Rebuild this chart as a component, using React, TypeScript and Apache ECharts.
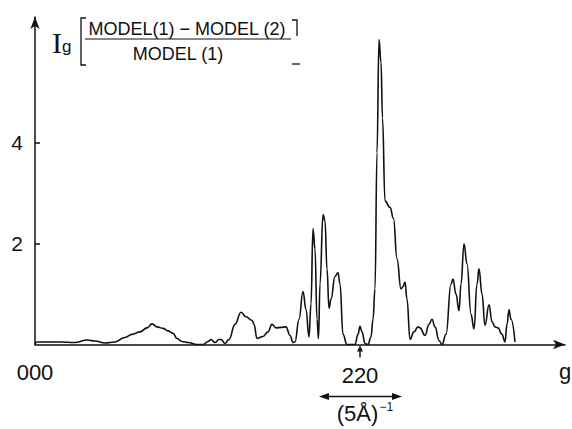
import React, { useEffect, useRef } from "react";
import * as echarts from "echarts";

// position along g (arbitrary linear units, 000 at 0, 220 at 325)
const positions = [
  0, 2, 15, 25, 40, 52, 60, 70, 80, 90, 97, 105, 112, 117, 122, 128, 133, 138, 142, 147, 153,
  162, 168, 173, 176, 180, 184, 186, 190, 194, 200, 206, 211, 217, 219, 222, 228, 233, 237, 241,
  246, 251, 255, 258, 260, 264, 268, 271, 274, 276, 278, 280, 282, 283.5, 285, 288, 290, 292,
  294, 296, 300, 303, 305, 308, 312, 320, 323, 325, 327, 330, 333, 336, 338, 340, 342, 344, 346,
  347.5, 350, 355, 358.5, 362, 366, 368, 370, 372, 375, 379, 383, 385, 390, 394, 397, 400, 404,
  407, 411, 416, 418, 421, 424, 426, 429, 432, 436, 439, 442, 444, 447, 450, 454, 457, 460, 463,
  467, 470, 472, 474, 476, 480,
];
const intensity = [
  0.0, 0.05, 0.05, 0.05, 0.04, 0.09, 0.07, 0.03, 0.05, 0.14, 0.2, 0.25, 0.33, 0.41, 0.35, 0.32,
  0.27, 0.22, 0.12, 0.06, 0.04, 0.0, 0.0, 0.06, 0.1, 0.04, 0.1, 0.1, 0.02, 0.1, 0.4, 0.64, 0.55,
  0.48, 0.4, 0.12, 0.16, 0.25, 0.4, 0.33, 0.34, 0.35, 0.18, 0.04, 0.05, 0.5, 1.05, 0.7, 0.15,
  0.8, 2.3, 1.9, 0.5, 0.12, 1.2, 2.58, 2.45, 1.5, 0.72, 0.9, 1.35, 1.43, 1.2, 0.2, 0.0, 0.0, 0.2,
  0.36, 0.25, 0.02, 0.0, 0.15, 0.5, 1.1, 3.8, 6.05, 5.6, 4.5, 2.85, 2.72, 2.5, 1.7, 1.1, 1.15,
  1.24, 0.9, 0.1, 0.25, 0.35, 0.33, 0.18, 0.4, 0.5, 0.35, 0.08, 0.0, 0.2, 1.2, 1.3, 1.0, 0.67,
  1.2, 2.0, 1.6, 0.6, 0.31, 1.2, 1.5, 1.0, 0.38, 0.79, 0.45, 0.35, 0.33, 0.2, 0.05, 0.4, 0.69,
  0.5, 0.05,
];
const yTicks = [2, 4];
const xTickLabels = ["000", "220", "g"];
const xTickPositions = [0, 325, 530];
const scaleBar = [284, 367]; // width of (5Å)^-1
const X_MAX = 530;
const Y_MAX = 6.5;

const INK = "#111";
const SANS = "'Liberation Sans', Arial, sans-serif";
const SERIF = "'Liberation Serif', 'Times New Roman', serif";

export default function App() {
  const ref = useRef<HTMLDivElement>(null);
  useEffect(() => {
    const chart = echarts.init(ref.current!, null, { renderer: "svg" });
    const data = positions.map((p, i) => [p, intensity[i]]);
    chart.setOption({
      animation: false,
      backgroundColor: "#fff",
      grid: { left: 35, right: 7, top: 16.9, bottom: 84.5 },
      xAxis: {
        type: "value",
        min: 0,
        max: X_MAX,
        axisLine: {
          show: true,
          symbol: ["none", "arrow"],
          symbolSize: [7, 12],
          lineStyle: { color: INK, width: 1.5 },
        },
        axisTick: { show: false },
        axisLabel: { show: false },
        splitLine: { show: false },
      },
      yAxis: {
        type: "value",
        min: 0,
        max: Y_MAX,
        axisLine: {
          show: true,
          symbol: ["none", "arrow"],
          symbolSize: [7, 12],
          lineStyle: { color: INK, width: 1.5 },
        },
        axisTick: {
          show: true,
          inside: true,
          length: 5,
          customValues: yTicks,
          lineStyle: { color: INK, width: 1.5 },
        },
        axisLabel: {
          show: true,
          customValues: yTicks,
          margin: 12,
          color: INK,
          fontSize: 21,
          fontFamily: SANS,
        },
        splitLine: { show: false },
      },
      series: [
        {
          type: "line",
          data,
          showSymbol: false,
          smooth: 0.45,
          smoothMonotone: "x",
          lineStyle: { color: INK, width: 1.6 },
        },
      ],
    });

    const px = (v: number) => chart.convertToPixel({ xAxisIndex: 0 }, v) as number;
    const axisY = chart.convertToPixel({ yAxisIndex: 0 }, 0) as number;

    const labelTops = [axisY + 17, axisY + 20, axisY + 16];
    const xLabelEls = xTickLabels.map((t, i) => ({
      type: "text",
      x: px(xTickPositions[i]),
      y: labelTops[i],
      style: {
        text: t,
        fill: INK,
        font: `22px ${SANS}`,
        textAlign: "center",
        textVerticalAlign: "top",
      },
    }));

    const gx = px(xTickPositions[1]);
    const b0 = px(scaleBar[0]);
    const b1 = px(scaleBar[1]);
    const barY = axisY + 52;
    const mid = (b0 + b1) / 2;

    chart.setOption({
      graphic: [
        ...xLabelEls,
        // arrow from 220 up to axis
        { type: "line", shape: { x1: gx, y1: axisY + 13, x2: gx, y2: axisY + 4 }, style: { stroke: INK, lineWidth: 1.5 } },
        { type: "polygon", shape: { points: [[gx - 3, axisY + 7], [gx + 3, axisY + 7], [gx, axisY + 1]] }, style: { fill: INK } },
        // scale bar with double arrow
        { type: "line", shape: { x1: b0 + 4, y1: barY, x2: b1 - 4, y2: barY }, style: { stroke: INK, lineWidth: 1.5 } },
        { type: "polygon", shape: { points: [[b0, barY], [b0 + 10, barY - 3.5], [b0 + 10, barY + 3.5]] }, style: { fill: INK } },
        { type: "polygon", shape: { points: [[b1, barY], [b1 - 10, barY - 3.5], [b1 - 10, barY + 3.5]] }, style: { fill: INK } },
        {
          type: "text",
          x: mid - 3,
          y: barY + 6,
          style: { text: "(5Å)", fill: INK, font: `22px ${SANS}`, textAlign: "center", textVerticalAlign: "top" },
        },
        {
          type: "text",
          x: mid + 19,
          y: barY + 4,
          style: { text: "−1", fill: INK, font: `12px ${SANS}`, textAlign: "left", textVerticalAlign: "top" },
        },
        // y title: I_g [ (MODEL(1) − MODEL(2)) / MODEL(1) ]
        { type: "text", x: 52, y: 27, style: { text: "I", fill: INK, font: `30px ${SERIF}`, textVerticalAlign: "top" } },
        { type: "text", x: 62, y: 38, style: { text: "g", fill: INK, font: `17px ${SANS}`, textVerticalAlign: "top" } },
        { type: "polyline", shape: { points: [[86, 18], [81, 18], [81, 65], [86, 65]] }, style: { stroke: INK, lineWidth: 1.3, fill: "none" } },
        {
          type: "text",
          x: 187,
          y: 29,
          style: { text: "MODEL(1) − MODEL (2)", fill: INK, font: `18px ${SANS}`, textAlign: "center", textVerticalAlign: "middle" },
        },
        { type: "line", shape: { x1: 85, y1: 39, x2: 291, y2: 39 }, style: { stroke: INK, lineWidth: 1 } },
        {
          type: "text",
          x: 178,
          y: 54,
          style: { text: "MODEL (1)", fill: INK, font: `18px ${SANS}`, textAlign: "center", textVerticalAlign: "middle" },
        },
        { type: "polyline", shape: { points: [[292, 20], [297, 20], [297, 36]] }, style: { stroke: INK, lineWidth: 1.3, fill: "none" } },
        { type: "line", shape: { x1: 292, y1: 64, x2: 300, y2: 64 }, style: { stroke: INK, lineWidth: 1.3 } },
      ],
    });
    return () => chart.dispose();
  }, []);
  return (
    <div
      ref={ref}
      style={{ position: "fixed", left: 0, top: 0, width: 572, height: 429, background: "#fff" }}
    />
  );
}
